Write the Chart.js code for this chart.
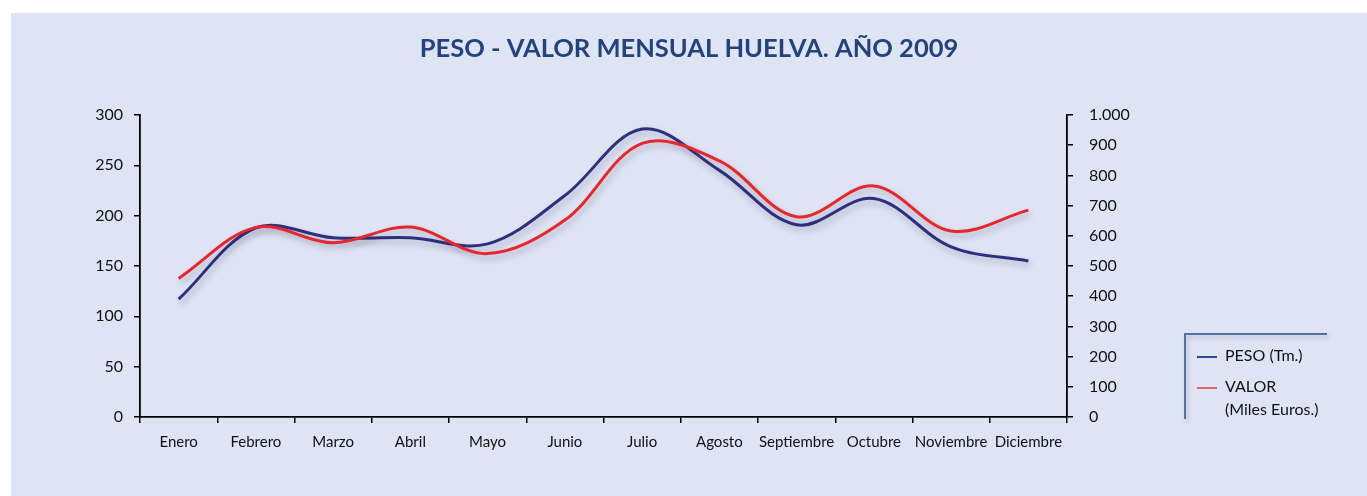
<!DOCTYPE html>
<html lang="es">
<head>
<meta charset="utf-8">
<title>Peso - Valor mensual Huelva 2009</title>
<script src="https://cdn.jsdelivr.net/npm/chart.js@4"></script>
<style>
  html, body { margin:0; padding:0; background:#fff; }
  body { width:1367px; height:496px; overflow:hidden; position:relative; }
  #panel { position:absolute; left:11px; top:13px; width:1356px; height:483px; background:#dee4f4; }
  #panel canvas { display:block; }
</style>
</head>
<body>
<div id="panel"><canvas id="pesoChart" width="1356" height="483"></canvas></div>
<script>
/* ── Data ── */
const months = ['Enero','Febrero','Marzo','Abril','Mayo','Junio','Julio','Agosto','Septiembre','Octubre','Noviembre','Diciembre'];
const peso   = [117, 188, 178, 178, 172, 220, 286, 245, 191, 217, 169, 155];   // Tm. (eje izq.)
const valor  = [459, 628, 577, 629, 541, 652, 906, 848, 663, 765, 616, 685];   // Miles Euros (eje dcho.)
const pesoTicks  = { min: 0, max: 300,  step: 50 };
const valorTicks = { min: 0, max: 1000, step: 100 };

const BLUE = '#2e2f7e';
const RED  = '#e8262b';
const FONT = 'Lato, Calibri, "DejaVu Sans", sans-serif';

const fmtMiles = v => String(v).replace(/\B(?=(\d{3})+(?!\d))/g, '.');

/* ── Shadow under the lines ── */
const lineShadow = {
  id: 'lineShadow',
  beforeDatasetDraw(chart) {
    const c = chart.ctx;
    c.save();
    c.shadowColor = 'rgba(40,40,70,0.28)';
    c.shadowBlur = 6;
    c.shadowOffsetX = 2;
    c.shadowOffsetY = 4;
  },
  afterDatasetDraw(chart) { chart.ctx.restore(); }
};

/* ── Legend box (bracket style, bottom right) ── */
const bracketLegend = {
  id: 'bracketLegend',
  afterDraw(chart) {
    const c = chart.ctx;
    const x0 = 1174, y0 = 321;
    c.save();
    c.shadowColor = 'rgba(40,40,70,0.3)';
    c.shadowBlur = 4; c.shadowOffsetX = 2; c.shadowOffsetY = 3;
    c.strokeStyle = '#2c4b93';
    c.lineWidth = 1.5;
    c.beginPath();
    c.moveTo(x0, y0 + 85); c.lineTo(x0, y0); c.lineTo(x0 + 142, y0);
    c.stroke();
    c.restore();

    c.save();
    c.font = '16px ' + FONT;
    c.fillStyle = '#111';
    c.textBaseline = 'middle';
    let y = y0 + 22;
    chart.data.datasets.forEach(ds => {
      c.strokeStyle = ds.legendColor;
      c.lineWidth = 2;
      c.beginPath(); c.moveTo(x0 + 12, y + 1); c.lineTo(x0 + 32, y + 1); c.stroke();
      const lines = Array.isArray(ds.label) ? ds.label : [ds.label];
      lines.forEach((t, i) => c.fillText(t, x0 + 40, y + i * 23));
      y += 31;
    });
    c.restore();
  }
};

const axisCommon = {
  border: { display: true, color: '#000', width: 1.8 },
  grid: { drawOnChartArea: false, drawTicks: true, tickLength: 6, color: '#000', lineWidth: 1.5 },
};

new Chart(document.getElementById('pesoChart'), {
  type: 'line',
  data: {
    labels: months,
    datasets: [
      {
        label: 'PESO (Tm.)',
        data: peso,
        yAxisID: 'y',
        borderColor: BLUE,
        legendColor: '#2c4b8f',
        borderWidth: 3,
        tension: 0.35,
        pointRadius: 0,
        fill: false,
        order: 1,
      },
      {
        label: ['VALOR', '(Miles Euros.)'],
        data: valor,
        yAxisID: 'y1',
        borderColor: RED,
        legendColor: '#e06666',
        borderWidth: 3,
        tension: 0.35,
        pointRadius: 0,
        fill: false,
        order: 0,
      }
    ]
  },
  options: {
    responsive: false,
    animation: false,
    layout: { padding: 0 },
    plugins: {
      legend: { display: false },
      tooltip: { enabled: false },
      title: {
        display: true,
        text: 'PESO - VALOR MENSUAL HUELVA. AÑO 2009',
        color: '#23437d',
        font: { family: FONT, size: 25.5, weight: 'bold', lineHeight: 1.2 },
        padding: { top: 20, bottom: 51.4 },
      }
    },
    scales: {
      x: {
        ...axisCommon,
        offset: true,
        grid: { ...axisCommon.grid, offset: true },
        ticks: { color: '#111', font: { family: FONT, size: 15 }, padding: 10, maxRotation: 0, autoSkip: false },
        afterFit: s => { s.height = 79; },
      },
      y: {
        ...axisCommon,
        position: 'left',
        min: pesoTicks.min, max: pesoTicks.max,
        ticks: { stepSize: pesoTicks.step, color: '#111', font: { family: FONT, size: 16 }, padding: 11, callback: v => fmtMiles(v) },
        afterFit: s => { s.width = 129; },
      },
      y1: {
        ...axisCommon,
        position: 'right',
        min: valorTicks.min, max: valorTicks.max,
        ticks: { stepSize: valorTicks.step, color: '#111', font: { family: FONT, size: 16 }, padding: 16, callback: v => fmtMiles(v) },
        afterFit: s => { s.width = 300; },
      }
    }
  },
  plugins: [lineShadow, bracketLegend]
});
</script>
</body>
</html>
